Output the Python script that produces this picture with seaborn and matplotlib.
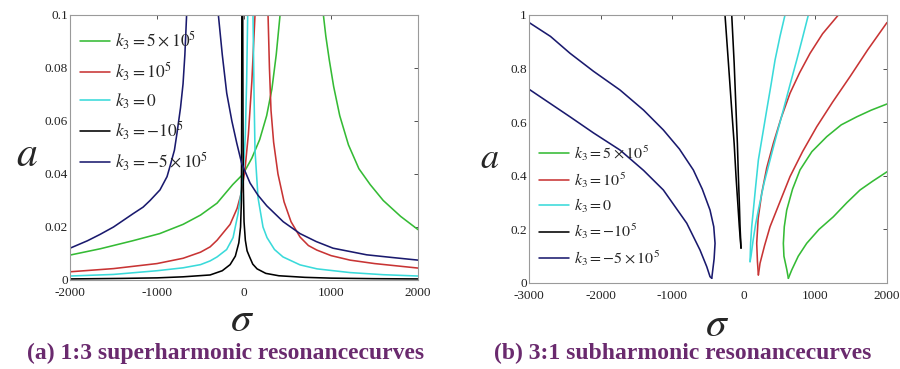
import numpy as np
import pandas as pd
import matplotlib
matplotlib.use("Agg")
import matplotlib.pyplot as plt
import seaborn as sns

# ---------------- data: panel (a) 1:3 superharmonic ----------------
labels = [r"$k_3 = 5\times10^5$", r"$k_3 = 10^5$", r"$k_3 = 0$",
          r"$k_3 = -10^5$", r"$k_3 = -5\times10^5$"]
colors = ["#35bb35", "#c83434", "#3adada", "#000000", "#1a1a6e"]

# k3 = 5e5
a_g_left_s = [-2000, -1650, -1280, -970, -700, -500, -310, -130, -10, 90, 180, 260, 320, 370, 414]
a_g_left_a = [0.0094, 0.0118, 0.0148, 0.0175, 0.021, 0.0245, 0.029, 0.036, 0.040, 0.046, 0.053, 0.062, 0.072, 0.085, 0.1]
a_g_right_s = [912, 940, 980, 1030, 1100, 1200, 1320, 1450, 1600, 1800, 2000]
a_g_right_a = [0.1, 0.092, 0.083, 0.073, 0.062, 0.051, 0.042, 0.036, 0.030, 0.024, 0.019]
# k3 = 1e5
a_r_left_s = [-2000, -1500, -1000, -700, -500, -390, -310, -160, -120, -80, -30, 10, 50, 90, 126]
a_r_left_a = [0.0031, 0.0043, 0.0062, 0.0082, 0.0105, 0.0125, 0.015, 0.021, 0.024, 0.027, 0.033, 0.0415, 0.055, 0.075, 0.1]
a_r_right_s = [276, 292, 310, 340, 390, 460, 540, 644, 740, 836, 1000, 1218, 1500, 2000]
a_r_right_a = [0.1, 0.08, 0.064, 0.052, 0.040, 0.0295, 0.022, 0.0162, 0.013, 0.0113, 0.0092, 0.0075, 0.0062, 0.0045]
# k3 = 0
a_c_left_s = [-2000, -1500, -1000, -700, -500, -390, -310, -200, -126, -69, -30, -5, 15, 30, 42]
a_c_left_a = [0.0015, 0.0021, 0.0035, 0.0046, 0.0058, 0.0072, 0.0087, 0.0115, 0.016, 0.025, 0.034, 0.042, 0.055, 0.075, 0.1]
a_c_right_s = [103, 115, 126, 161, 218, 264, 350, 448, 644, 839, 1218, 1600, 2000]
a_c_right_a = [0.1, 0.07, 0.049, 0.031, 0.020, 0.016, 0.0115, 0.0087, 0.0057, 0.0042, 0.0028, 0.002, 0.0015]
# k3 = -1e5
a_k_left_s = [-2000, -1400, -1000, -700, -390, -250, -160, -100, -60, -40, -30, -27, -25]
a_k_left_a = [0.0004, 0.0006, 0.0008, 0.0012, 0.0019, 0.0035, 0.0058, 0.009, 0.014, 0.02, 0.03, 0.06, 0.1]
a_k_right_s = [-15, -12, -8, 0, 15, 35, 60, 100, 150, 250, 400, 700, 1000, 1500, 2000]
a_k_right_a = [0.1, 0.06, 0.035, 0.022, 0.015, 0.011, 0.009, 0.006, 0.0042, 0.0025, 0.0016, 0.001, 0.0007, 0.0005, 0.0004]
# k3 = -5e5
a_b_left_s = [-2000, -1800, -1655, -1500, -1276, -1160, -1080, -966, -885, -850, -800, -770, -730, -701, -680, -660]
a_b_left_a = [0.012, 0.0148, 0.0172, 0.020, 0.025, 0.0275, 0.030, 0.034, 0.039, 0.043, 0.049, 0.0555, 0.065, 0.074, 0.085, 0.1]
a_b_right_s = [-295, -250, -199, -140, -84, -27, 69, 160, 261, 450, 644, 830, 1023, 1410, 1700, 2000]
a_b_right_a = [0.1, 0.085, 0.0705, 0.06, 0.0517, 0.044, 0.0366, 0.032, 0.028, 0.022, 0.0175, 0.0145, 0.012, 0.0095, 0.0085, 0.0075]

# ---------------- data: panel (b) 3:1 subharmonic ----------------
b_g_up_s = [622, 600, 560, 552, 565, 599, 680, 785, 950, 1158, 1360, 1577, 1780, 2000]
b_g_up_a = [0.0175, 0.05, 0.10, 0.148, 0.21, 0.272, 0.35, 0.422, 0.49, 0.546, 0.59, 0.620, 0.645, 0.668]
b_g_lo_s = [622, 669, 760, 878, 1050, 1250, 1440, 1623, 1800, 2000]
b_g_lo_a = [0.0175, 0.0485, 0.10, 0.148, 0.20, 0.247, 0.30, 0.347, 0.38, 0.415]
b_r_up_s = [203, 190, 180, 200, 250, 320, 412, 520, 645, 780, 925, 1100, 1320]
b_r_up_a = [0.03, 0.08, 0.148, 0.24, 0.335, 0.43, 0.521, 0.615, 0.708, 0.785, 0.857, 0.93, 1.0]
b_r_lo_s = [203, 226, 290, 366, 500, 645, 820, 1018, 1240, 1483, 1730, 2000]
b_r_lo_a = [0.03, 0.0735, 0.14, 0.21, 0.30, 0.397, 0.49, 0.583, 0.675, 0.770, 0.87, 0.972]
b_c_up_s = [87, 95, 110, 133, 165, 203, 260, 320, 380, 436, 505, 575]
b_c_up_a = [0.0795, 0.15, 0.21, 0.272, 0.36, 0.459, 0.55, 0.646, 0.74, 0.832, 0.92, 1.0]
b_c_lo_s = [87, 100, 130, 165, 203, 280, 366, 455, 552, 645, 739, 820, 901]
b_c_lo_a = [0.0795, 0.10, 0.16, 0.22, 0.272, 0.37, 0.459, 0.55, 0.646, 0.74, 0.832, 0.915, 1.0]
b_k_up_s = [-263, -215, -169, -135, -109, -85, -63, -50, -39]
b_k_up_a = [1.0, 0.82, 0.645, 0.52, 0.397, 0.30, 0.21, 0.165, 0.13]
b_k_lo_s = [-169, -135, -109, -90, -76, -63, -53, -45, -39]
b_k_lo_a = [1.0, 0.82, 0.645, 0.52, 0.397, 0.30, 0.21, 0.165, 0.13]
b_b_up_s = [-3000, -2700, -2427, -2100, -1729, -1400, -1124, -900, -705, -580, -472, -420, -402, -415, -448]
b_b_up_a = [0.972, 0.92, 0.857, 0.79, 0.720, 0.645, 0.571, 0.50, 0.4216, 0.35, 0.272, 0.21, 0.148, 0.09, 0.0175]
b_b_lo_s = [-448, -472, -518, -612, -797, -1124, -1400, -1729, -2100, -2427, -3000]
b_b_lo_a = [0.0175, 0.0235, 0.061, 0.123, 0.223, 0.347, 0.42, 0.496, 0.56, 0.62, 0.723]

xticks_a = [-2000, -1000, 0, 1000, 2000]
yticks_a = [0, 0.02, 0.04, 0.06, 0.08, 0.1]
yticklabels_a = ["0", "0.02", "0.04", "0.06", "0.08", "0.1"]
xticks_b = [-3000, -2000, -1000, 0, 1000, 2000]
yticks_b = [0, 0.2, 0.4, 0.6, 0.8, 1]
yticklabels_b = ["0", "0.2", "0.4", "0.6", "0.8", "1"]
captions = ["(a) 1:3 superharmonic resonancecurves", "(b) 3:1 subharmonic resonancecurves"]

panel_a = [
    [(a_g_left_s, a_g_left_a), (a_g_right_s, a_g_right_a)],
    [(a_r_left_s, a_r_left_a), (a_r_right_s, a_r_right_a)],
    [(a_c_left_s, a_c_left_a), (a_c_right_s, a_c_right_a)],
    [(a_k_left_s, a_k_left_a), (a_k_right_s, a_k_right_a)],
    [(a_b_left_s, a_b_left_a), (a_b_right_s, a_b_right_a)],
]
panel_b = [
    [(b_g_up_s, b_g_up_a), (b_g_lo_s, b_g_lo_a)],
    [(b_r_up_s, b_r_up_a), (b_r_lo_s, b_r_lo_a)],
    [(b_c_up_s, b_c_up_a), (b_c_lo_s, b_c_lo_a)],
    [(b_k_up_s, b_k_up_a), (b_k_lo_s, b_k_lo_a)],
    [(b_b_up_s, b_b_up_a), (b_b_lo_s, b_b_lo_a)],
]

# ---------------- styling ----------------
sns.set_theme(style="white")
plt.rcParams["font.family"] = ["Liberation Serif", "DejaVu Serif"]
plt.rcParams["mathtext.fontset"] = "stix"

fig = plt.figure(figsize=(9, 3.69), dpi=100)
ax1 = fig.add_axes([0.0778, 0.2412, 0.3867, 0.7182])
ax2 = fig.add_axes([0.5878, 0.2331, 0.3978, 0.7263])


def draw(ax, series):
    for lab, col, branches in zip(labels, colors, series):
        for i, (s, a) in enumerate(branches):
            sns.lineplot(x=np.array(s, float), y=np.array(a, float), ax=ax, color=col,
                         sort=False, estimator=None, linewidth=1.15,
                         label=lab if i == 0 else None, legend=False)


draw(ax1, panel_a)
draw(ax2, panel_b)

for ax, xt, yt, ytl, xl, yl in [
    (ax1, xticks_a, yticks_a, yticklabels_a, (-2000, 2000), (0, 0.1)),
    (ax2, xticks_b, yticks_b, yticklabels_b, (-3000, 2000), (0, 1)),
]:
    ax.set_xlim(*xl)
    ax.set_ylim(*yl)
    ax.set_xticks(xt)
    ax.set_xticklabels([str(v) for v in xt])
    ax.set_yticks(yt)
    ax.set_yticklabels(ytl)
    ax.tick_params(direction="in", length=3, width=0.6, top=True, right=True,
                   labelsize=9.5, colors="#333333", labelcolor="#222222", pad=1.5)
    ax.tick_params(axis="x", pad=5)
    for sp in ax.spines.values():
        sp.set_color("#9a9a9a")
        sp.set_linewidth(0.8)

ax1.set_ylabel(r"$a$", fontsize=30, rotation=0, va="center", ha="center")
ax1.yaxis.set_label_coords(-0.125, 0.47)
ax1.set_xlabel(r"$\sigma$", fontsize=30, va="center")
ax1.xaxis.set_label_coords(0.494, -0.155)
ax2.set_ylabel(r"$a$", fontsize=26, rotation=0, va="center", ha="center")
ax2.yaxis.set_label_coords(-0.11, 0.46)
ax2.set_xlabel(r"$\sigma$", fontsize=30, va="center")
ax2.xaxis.set_label_coords(0.525, -0.16)

h, l = ax1.get_legend_handles_labels()
ax1.legend(h, l, loc="upper left", frameon=False, fontsize=12.5,
           handlelength=1.7, handletextpad=0.3, labelspacing=0.5,
           borderaxespad=0.2, bbox_to_anchor=(0.0, 0.985))
h, l = ax2.get_legend_handles_labels()
ax2.legend(h, l, loc="lower left", frameon=False, fontsize=11.5,
           handlelength=1.9, handletextpad=0.3, labelspacing=0.45,
           borderaxespad=0.2, bbox_to_anchor=(0.0, 0.02))

fig.text(226 / 900, 1 - 353 / 369, captions[0], ha="center", va="center",
         fontsize=17, fontweight="bold", color="#6a2a6e")
fig.text(683 / 900, 1 - 353 / 369, captions[1], ha="center", va="center",
         fontsize=17, fontweight="bold", color="#6a2a6e")

fig.savefig("out.png", dpi=100)
